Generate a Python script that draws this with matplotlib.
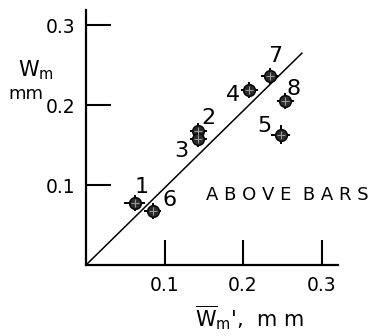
import numpy as np
import matplotlib
matplotlib.use("Agg")
import matplotlib.pyplot as plt

plt.rcParams['font.family'] = ['DejaVu Sans']
plt.rcParams['mathtext.fontset'] = 'dejavusans'

# data
labels = ['1', '2', '3', '4', '5', '6', '7', '8']
w_mean = [0.062, 0.143, 0.143, 0.208, 0.248, 0.085, 0.234, 0.254]
w_m = [0.078, 0.168, 0.158, 0.219, 0.163, 0.068, 0.237, 0.205]
x_err = [0.013, 0.011, 0.011, 0.011, 0.012, 0.011, 0.011, 0.011]
y_err = [0.010, 0.010, 0.010, 0.010, 0.012, 0.010, 0.010, 0.010]
line_x = [0.0, 0.275]
line_y = [0.0, 0.265]
ticks = [0.1, 0.2, 0.3]
tick_labels = ['0.1', '0.2', '0.3']

# label offsets (points) relative to each marker
offsets = {'1': (5, 11), '2': (7, 9), '3': (-12, -9), '4': (-12, -4),
           '5': (-12, 6), '6': (12, 8), '7': (4, 14), '8': (6, 9)}

fig = plt.figure(figsize=(3.8, 3.36), dpi=100)
ax = fig.add_axes([86/380, 71/336, 252/380, 255/336])

ax.plot(line_x, line_y, color='black', lw=1.1)
ax.errorbar(w_mean, w_m, xerr=x_err, yerr=y_err, fmt='none', ecolor='black',
            elinewidth=1.4, capsize=0)
ax.plot(w_mean, w_m, 'o', ms=8.5, mfc='#2a2a2a', mec='black', mew=1)
ax.plot(w_mean, w_m, '+', ms=6, color='#9a9a9a', mew=0.8)

for lab, x, y in zip(labels, w_mean, w_m):
    ax.annotate(lab, (x, y), xytext=offsets[lab], textcoords='offset points',
                ha='center', va='center', fontsize=16)

fig.text(206/380, 1 - 195/336, 'A B O V E  B A R S',
         ha='left', va='center', fontsize=13)

ax.set_xlim(0, 0.321)
ax.set_ylim(0, 0.319)
ax.set_xticks(ticks)
ax.set_xticklabels(tick_labels)
ax.set_yticks(ticks)
ax.set_yticklabels(tick_labels)
ax.tick_params(direction='in', length=18, width=1.5, labelsize=13.5)
ax.tick_params(axis='x', pad=8)
ax.tick_params(axis='y', pad=8)
for s in ['top', 'right']:
    ax.spines[s].set_visible(False)
for s in ['left', 'bottom']:
    ax.spines[s].set_linewidth(1.6)

fig.text(18/380, 1 - 70/336, r'$\mathrm{W_m}$', fontsize=15, ha='left', va='center')
fig.text(8/380, 1 - 94/336, 'mm', fontsize=13, ha='left', va='center')
fig.text(195/380, 1 - 318/336, r"$\overline{\mathrm{W}}_{\mathrm{m}}$',  m m",
         fontsize=15, ha='left', va='center')

fig.savefig('out.png', dpi=100)
